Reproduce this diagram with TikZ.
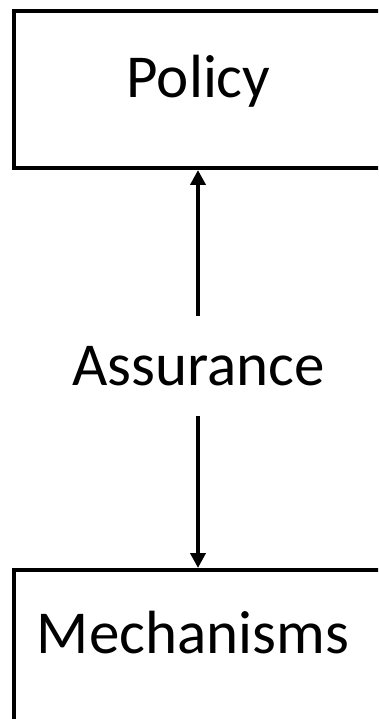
\documentclass[tikz,border=0pt]{standalone}
\usepackage{fontspec}
\setmainfont{Carlito}
\usetikzlibrary{arrows.meta}
\begin{document}
\begin{tikzpicture}[x=1pt,y=-1pt,
  boxstyle/.style={draw=black,line width=4pt,minimum width=368pt,inner sep=0pt},
  labelstyle/.style={font=\fontsize{61}{70}\selectfont,inner sep=0pt,anchor=base},
  arrowstyle/.style={line width=4pt,-{Triangle[length=15pt,width=15pt]}}]
\useasboundingbox (0,0) rectangle (378,719);
\clip (0,0) rectangle (378,719);
\fill[white] (0,0) rectangle (378,719);
\node[boxstyle,minimum height=157pt] (policy) at (198,89.5) {};
\node[boxstyle,minimum height=190pt] (mech) at (198,665) {};
\node[labelstyle] (policytxt) at (198.5,98) {Policy};
\node[labelstyle] (assur) at (198.5,385) {Assurance};
\node[labelstyle] (mechtxt) at (193,653) {Mechanisms};
\coordinate (upstart) at (198,316);
\coordinate (downstart) at (198,416);
\draw[arrowstyle] (upstart) -- (policy.south);
\draw[arrowstyle] (downstart) -- (mech.north);
\end{tikzpicture}
\end{document}
